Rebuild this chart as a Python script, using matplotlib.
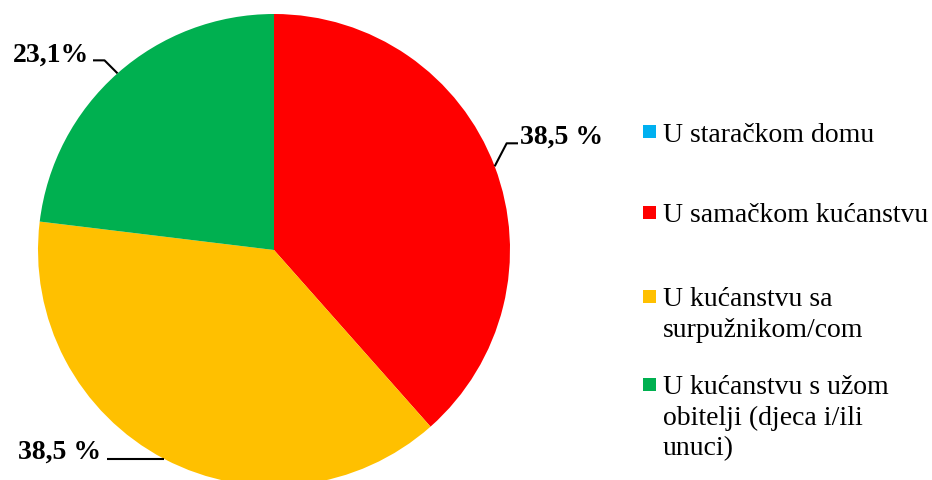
import numpy as np
import matplotlib
matplotlib.use("Agg")
import matplotlib.pyplot as plt
from matplotlib.patches import Rectangle

plt.rcParams['font.family'] = ['Liberation Serif', 'DejaVu Serif']

W, H = 932, 481

categories = ["U staračkom domu",
              "U samačkom kućanstvu",
              "U kućanstvu sa\nsurpužnikom/com",
              "U kućanstvu s užom\nobitelji (djeca i/ili\nunuci)"]
values = [0.0, 38.5, 38.5, 23.1]
value_labels = ["", "38,5 %", "38,5 %", "23,1%"]
colors = ["#00B0F0", "#FF0000", "#FFC000", "#00B050"]

# layout in pixel units (y measured from the top)
cx, cy, r = 274, 251, 236
# per slice: elbow offset from anchor, end of line, text anchor, ha
leaders = {
    1: ((12, -23), 518, (520, 137), 'left'),
    2: ((0, 0), 107, (101, 452), 'right'),
    3: ((-13, -13), 93, (89, 55), 'right'),
}
legend_y = [132, 213, 297, 385]


def fy(y):
    return H - y


fig = plt.figure(figsize=(W / 100, H / 100), dpi=100)
ax = fig.add_axes([0, 0, 1, 1])
ax.axis('off')

wedges, _ = ax.pie(values, colors=colors, startangle=90, counterclock=False,
                   center=(cx, fy(cy)), radius=r,
                   wedgeprops=dict(linewidth=0))
ax.set_xlim(0, W)
ax.set_ylim(0, H)
ax.set_aspect('equal')

for i, (elbow, xend, (tx, ty), ha) in leaders.items():
    w = wedges[i]
    mid = np.deg2rad((w.theta1 + w.theta2) / 2)
    ax_, ay_ = cx + r * np.cos(mid), cy - r * np.sin(mid)
    ex, ey = ax_ + elbow[0], ay_ + elbow[1]
    ax.plot([ax_, ex, xend], [fy(ay_), fy(ey), fy(ey)], color='black', lw=1.5,
            solid_capstyle='butt')
    ax.text(tx, fy(ty), value_labels[i], ha=ha, va='center', fontsize=20,
            fontweight='bold', color='black')

for lab, col, y in zip(categories, colors, legend_y):
    ax.add_patch(Rectangle((643, fy(y) - 6.5), 13, 13, color=col, lw=0))
    ax.text(663, fy(y) + 9.5, lab, ha='left', va='top', fontsize=20,
            linespacing=1.27, color='black')

fig.savefig("out.png", dpi=100)
